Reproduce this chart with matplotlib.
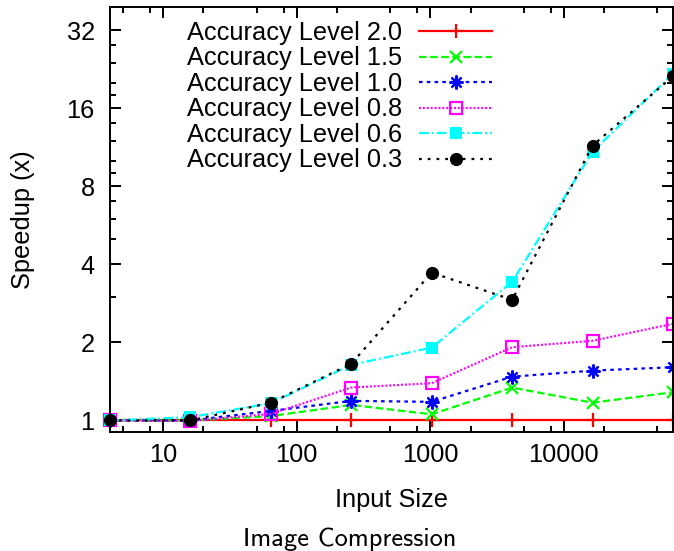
import matplotlib
matplotlib.use("Agg")
import matplotlib.pyplot as plt
from matplotlib.font_manager import FontProperties
from matplotlib.ticker import FixedLocator, NullFormatter, FixedFormatter
import os

plt.rcParams['font.family'] = ['Liberation Sans', 'DejaVu Sans']
plt.rcParams['lines.scale_dashes'] = False

# ---- data ----
input_sizes = [4, 16, 64, 256, 1024, 4096, 16384, 65536]
acc_2_0 = [1.0, 1.0, 1.0, 1.0, 1.0, 1.0, 1.0, 1.0]
acc_1_5 = [1.0, 1.0, 1.04, 1.148, 1.056, 1.339, 1.171, 1.285]
acc_1_0 = [1.0, 1.0, 1.088, 1.19, 1.18, 1.476, 1.557, 1.605]
acc_0_8 = [1.0, 0.995, 1.06, 1.34, 1.392, 1.917, 2.03, 2.36]
acc_0_6 = [1.0, 1.03, 1.165, 1.64, 1.91, 3.43, 10.9, 21.8]
acc_0_3 = [1.0, 1.0, 1.171, 1.655, 3.72, 2.92, 11.5, 21.3]
labels = ["Accuracy Level 2.0", "Accuracy Level 1.5", "Accuracy Level 1.0",
          "Accuracy Level 0.8", "Accuracy Level 0.6", "Accuracy Level 0.3"]
y_major = [1, 2, 4, 8, 16, 32]
y_major_labels = ["1", "2", "4", "8", "16", "32"]
y_minor = [3, 5, 6, 7, 9, 10, 12, 14, 18, 20, 24, 28]
x_major = [10, 100, 1000, 10000]
x_major_labels = ["10", "100", "1000", "10000"]
x_minor = [5, 8, 20, 50, 80, 200, 500, 800, 2000, 5000, 8000, 20000, 50000]

fig = plt.figure(figsize=(6.74, 5.51), dpi=100)
ax = fig.add_axes([0.1632, 0.2154, 0.8353, 0.7714])

lw = 1.6
series = [
    (acc_2_0, dict(color='#ff0000', linestyle='-', marker='+', ms=10, mew=1.6)),
    (acc_1_5, dict(color='#00ff00', dashes=(5.4, 2.6), marker='x', ms=8.5, mew=1.6)),
    (acc_1_0, dict(color='#0000ff', dashes=(2.6, 3.0), marker=(8, 2, 0), ms=10, mew=1.6)),
    (acc_0_8, dict(color='#ff00ff', dashes=(1.4, 1.4), marker='s', ms=8.8, mew=1.6, mfc='none')),
    (acc_0_6, dict(color='#00ffff', dashes=(7.0, 2.2, 1.4, 2.2), marker='s', ms=8.5, mew=0)),
    (acc_0_3, dict(color='#000000', dashes=(2.0, 4.3), marker='o', ms=9.5, mew=0)),
]
for lab, (ys, kw) in zip(labels, series):
    ax.plot(input_sizes, ys, lw=lw, label=lab, clip_on=False, **kw)

ax.set_xscale('log')
ax.set_yscale('log', base=2)
ax.set_xlim(4, 65536)
ax.set_ylim(0.9, 39.3)

ax.xaxis.set_major_locator(FixedLocator(x_major))
ax.xaxis.set_major_formatter(FixedFormatter(x_major_labels))
ax.xaxis.set_minor_locator(FixedLocator(x_minor))
ax.xaxis.set_minor_formatter(NullFormatter())
ax.yaxis.set_major_locator(FixedLocator(y_major))
ax.yaxis.set_major_formatter(FixedFormatter(y_major_labels))
ax.yaxis.set_minor_locator(FixedLocator(y_minor))
ax.yaxis.set_minor_formatter(NullFormatter())

ax.tick_params(which='both', direction='in', top=True, right=True, width=1.4)
ax.tick_params(which='major', length=8)
ax.tick_params(which='minor', length=4.3)
ax.tick_params(axis='x', which='major', labelsize=18.3, pad=7.5)
ax.tick_params(axis='y', which='major', labelsize=18.3, pad=11)
for s in ax.spines.values():
    s.set_linewidth(1.4)

ax.set_xlabel("Input Size", fontsize=18.3)
ax.xaxis.set_label_coords(0.5, -0.13)
ax.set_ylabel("Speedup (x)", fontsize=18.3)
ax.yaxis.set_label_coords(-0.133, 0.5)

leg = ax.legend(loc='upper left', bbox_to_anchor=(0.1362, 0.968), frameon=False,
                markerfirst=False, fontsize=18.3, handlelength=2.87,
                handletextpad=0.69, labelspacing=0.06, borderpad=0,
                borderaxespad=0, numpoints=1)

cm_path = os.path.join(matplotlib.get_data_path(), 'fonts', 'ttf', 'cmss10.ttf')
cap_fp = FontProperties(fname=cm_path, size=19)
fig.text(350 / 674, 1 - 539 / 551, "Image Compression", fontproperties=cap_fp,
         ha='center', va='center')

fig.savefig("out.png", dpi=100)
